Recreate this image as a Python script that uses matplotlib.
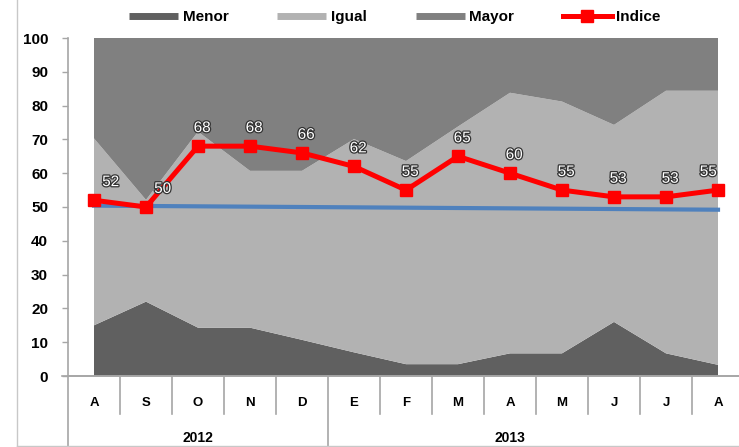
import numpy as np
import matplotlib
matplotlib.use("Agg")
import matplotlib.pyplot as plt
import matplotlib.patheffects as pe
from matplotlib.lines import Line2D
from matplotlib.transforms import blended_transform_factory

plt.rcParams['font.family'] = ['Liberation Sans', 'DejaVu Sans']

meses = ["A", "S", "O", "N", "D", "E", "F", "M", "A", "M", "J", "J", "A"]
anios = ["2012", "2013"]
menor = [15.0, 22.0, 14.3, 14.3, 10.7, 7.0, 3.5, 3.5, 6.7, 6.7, 16.0, 6.7, 3.3]
igual = [55.3, 30.1, 58.0, 46.4, 50.0, 63.1, 60.1, 70.3, 77.1, 74.5, 58.3, 77.7, 81.1]
mayor = [29.7, 47.9, 27.7, 39.3, 39.3, 29.9, 36.4, 26.2, 16.2, 18.8, 25.7, 15.6, 15.6]
indice = [52, 50, 68, 68, 66, 62, 55, 65, 60, 55, 53, 53, 55]
referencia = [50.4, 50.3, 50.2, 50.1, 50.0, 49.9, 49.8, 49.7, 49.6, 49.5, 49.4, 49.3, 49.2]

c_menor = '#606060'
c_igual = '#b2b2b2'
c_mayor = '#808080'
c_axis = '#a6a6a6'

fig = plt.figure(figsize=(7.39, 4.47), dpi=100)
ax = fig.add_axes([68 / 739, 71 / 447, 676 / 739, 338 / 447])

x = np.arange(len(meses))
ax.stackplot(x, menor, igual, mayor, colors=[c_menor, c_igual, c_mayor],
             linewidth=0)
ax.plot(x, referencia, color='#4f81bd', lw=3, zorder=3)
ax.plot(x, indice, color='#ff0000', lw=3.6, marker='s', markersize=8.5, zorder=4)

for i, v in enumerate(indice):
    dx = 3
    if i < 2:
        dx = 12
    elif i == len(indice) - 1:
        dx = -7
    ax.annotate(str(v), (i, v), xytext=(dx, 8), textcoords='offset points',
                ha='center', va='bottom', fontsize=11, color='white', zorder=5,
                path_effects=[pe.withStroke(linewidth=1.8, foreground='#333333')])

ax.set_xlim(-0.5, 12.5)
ax.set_ylim(0, 100)
ax.set_yticks(np.arange(0, 101, 10))
ax.tick_params(axis='y', length=4.3, width=1, color=c_axis, pad=10,
               labelsize=11)
for lab in ax.get_yticklabels():
    lab.set_fontweight('bold')
ax.set_xticks([])
for s in ['top', 'right']:
    ax.spines[s].set_visible(False)
ax.spines['left'].set_color(c_axis)
ax.spines['bottom'].set_color(c_axis)
ax.spines['left'].set_linewidth(1.2)
ax.spines['bottom'].set_linewidth(1.2)
ax.set_facecolor('white')

# eje de categorias en dos niveles
tr = blended_transform_factory(ax.transData, ax.transAxes)
for b in np.arange(0.5, 12.5, 1.0):
    if b == 4.5:
        continue
    ax.plot([b, b], [0, -0.112], color=c_axis, lw=1.2, transform=tr, clip_on=False)
for b in [-0.5, 4.5, 12.5]:
    ax.plot([b, b], [0, -0.21], color=c_axis, lw=1.2, transform=tr, clip_on=False)
ax.plot([-0.62, 12.5], [0, 0], color=c_axis, lw=1.2, transform=tr, clip_on=False)
for i, m in enumerate(meses):
    ax.text(i, -0.08, m, transform=tr, ha='center', va='center',
            fontsize=9.5, fontweight='bold')
ax.text(2, -0.183, anios[0], transform=tr, ha='center', va='center',
        fontsize=10, fontweight='bold')
ax.text(8, -0.183, anios[1], transform=tr, ha='center', va='center',
        fontsize=10, fontweight='bold')

# borde del grafico
fig.add_artist(Line2D([17 / 739, 17 / 739], [1 / 447, 1], color='#c8c8c8', lw=1))
fig.add_artist(Line2D([17 / 739, 1], [1 / 447, 1 / 447], color='#c8c8c8', lw=1))

handles = [
    Line2D([], [], color=c_menor, lw=5, solid_capstyle='butt'),
    Line2D([], [], color=c_igual, lw=5, solid_capstyle='butt'),
    Line2D([], [], color=c_mayor, lw=5, solid_capstyle='butt'),
    Line2D([], [], color='#ff0000', lw=3.6, marker='s', markersize=8.5),
]
leg = fig.legend(handles, ["Menor", "Igual", "Mayor", "Indice"], ncol=4,
                 loc='center', bbox_to_anchor=(395 / 739, 1 - 17 / 447),
                 frameon=False, handlelength=3.2, handletextpad=0.3,
                 columnspacing=3.2, prop={'weight': 'bold', 'size': 11})

fig.savefig("out.png", dpi=100)
